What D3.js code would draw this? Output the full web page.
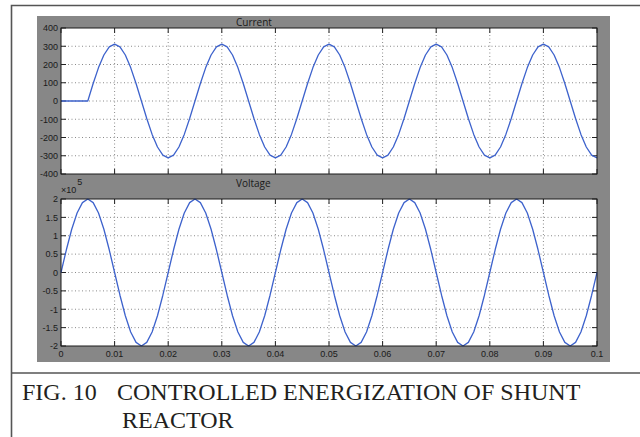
<!DOCTYPE html>
<html>
<head>
<meta charset="utf-8">
<script src="https://cdn.jsdelivr.net/npm/d3@7"></script>
<style>
  html, body { margin: 0; padding: 0; background: #ffffff; }
  svg { display: block; }
</style>
</head>
<body>
<svg id="fig" width="640" height="437"></svg>
<script>
// Sample times (s), 1 ms step
const time = d3.range(101).map(i => i / 1000);

// Reactor current (A), energized at 5 ms
const currentValues = [
  0, 0, 0, 0, 0, 0, 96, 183, 252, 297,
  312, 297, 252, 183, 96, 0, -96, -183, -252, -297,
  -312, -297, -252, -183, -96, 0, 96, 183, 252, 297,
  312, 297, 252, 183, 96, 0, -96, -183, -252, -297,
  -312, -297, -252, -183, -96, 0, 96, 183, 252, 297,
  312, 297, 252, 183, 96, 0, -96, -183, -252, -297,
  -312, -297, -252, -183, -96, 0, 96, 183, 252, 297,
  312, 297, 252, 183, 96, 0, -96, -183, -252, -297,
  -312, -297, -252, -183, -96, 0, 96, 183, 252, 297,
  312, 297, 252, 183, 96, 0, -96, -183, -252, -297,
  -312
];

// Bus voltage (x 10^5 V)
const voltageValues = [
  0, 0.618, 1.176, 1.618, 1.902, 2, 1.902, 1.618, 1.176, 0.618,
  0, -0.618, -1.176, -1.618, -1.902, -2, -1.902, -1.618, -1.176, -0.618,
  0, 0.618, 1.176, 1.618, 1.902, 2, 1.902, 1.618, 1.176, 0.618,
  0, -0.618, -1.176, -1.618, -1.902, -2, -1.902, -1.618, -1.176, -0.618,
  0, 0.618, 1.176, 1.618, 1.902, 2, 1.902, 1.618, 1.176, 0.618,
  0, -0.618, -1.176, -1.618, -1.902, -2, -1.902, -1.618, -1.176, -0.618,
  0, 0.618, 1.176, 1.618, 1.902, 2, 1.902, 1.618, 1.176, 0.618,
  0, -0.618, -1.176, -1.618, -1.902, -2, -1.902, -1.618, -1.176, -0.618,
  0, 0.618, 1.176, 1.618, 1.902, 2, 1.902, 1.618, 1.176, 0.618,
  0, -0.618, -1.176, -1.618, -1.902, -2, -1.902, -1.618, -1.176, -0.618,
  0
];

const xTicks = [0, 0.01, 0.02, 0.03, 0.04, 0.05, 0.06, 0.07, 0.08, 0.09, 0.1];
const xTickLabels = ["0", "0.01", "0.02", "0.03", "0.04", "0.05", "0.06", "0.07", "0.08", "0.09", "0.1"];
const currentTicks = [400, 300, 200, 100, 0, -100, -200, -300, -400];
const voltageTicks = [2, 1.5, 1, 0.5, 0, -0.5, -1, -1.5, -2];
const voltageTickLabels = ["2", "1.5", "1", "0.5", "0", "-0.5", "-1", "-1.5", "-2"];

const svg = d3.select("#fig");
const lineColor = "#3d62cc";
const panelGray = "#878787";

// Figure frame (open on the right) and caption separator
svg.append("path")
  .attr("d", "M640,5.5 H11.5 V437")
  .attr("fill", "none").attr("stroke", "#555").attr("stroke-width", 1.6);
svg.append("line")
  .attr("x1", 11.5).attr("x2", 640).attr("y1", 373).attr("y2", 373)
  .attr("stroke", "#555").attr("stroke-width", 1.6);

// Gray figure window background
svg.append("rect")
  .attr("x", 37).attr("y", 16).attr("width", 573).attr("height", 346)
  .attr("fill", panelGray);

const x = d3.scaleLinear().domain([0, 0.1]).range([61, 597]);

function drawPanel(opts) {
  const { y, ticks, tickLabels, values, title, titleY, showX } = opts;
  const [y0, y1] = y.range();
  const top = Math.min(y0, y1), bottom = Math.max(y0, y1);
  const left = x.range()[0], right = x.range()[1];
  const g = svg.append("g");

  g.append("rect")
    .attr("x", left).attr("y", top)
    .attr("width", right - left).attr("height", bottom - top)
    .attr("fill", "#ffffff");

  // dotted grid
  g.append("g").selectAll("line").data(xTicks.slice(1, -1)).join("line")
    .attr("x1", d => x(d)).attr("x2", d => x(d))
    .attr("y1", top).attr("y2", bottom)
    .attr("stroke", "#8a8a8a").attr("stroke-width", 1)
    .attr("stroke-dasharray", "1,2.5");
  g.append("g").selectAll("line").data(ticks.slice(1, -1)).join("line")
    .attr("x1", left).attr("x2", right)
    .attr("y1", d => y(d)).attr("y2", d => y(d))
    .attr("stroke", "#8a8a8a").attr("stroke-width", 1)
    .attr("stroke-dasharray", "1,2.5");

  // inward tick marks on all four sides
  const tk = 5;
  const tg = g.append("g").attr("stroke", "#222").attr("stroke-width", 1);
  xTicks.forEach(d => {
    tg.append("line").attr("x1", x(d)).attr("x2", x(d)).attr("y1", top).attr("y2", top + tk);
    tg.append("line").attr("x1", x(d)).attr("x2", x(d)).attr("y1", bottom).attr("y2", bottom - tk);
  });
  ticks.forEach(d => {
    tg.append("line").attr("x1", left).attr("x2", left + tk).attr("y1", y(d)).attr("y2", y(d));
    tg.append("line").attr("x1", right).attr("x2", right - tk).attr("y1", y(d)).attr("y2", y(d));
  });

  // signal trace
  const line = d3.line().x((d, i) => x(time[i])).y(d => y(d));
  g.append("path").datum(values)
    .attr("d", line)
    .attr("fill", "none").attr("stroke", lineColor)
    .attr("stroke-width", 1.3).attr("stroke-linejoin", "round");

  // axes box
  g.append("rect")
    .attr("x", left).attr("y", top)
    .attr("width", right - left).attr("height", bottom - top)
    .attr("fill", "none").attr("stroke", "#1a1a1a").attr("stroke-width", 1);

  // y tick labels
  g.append("g").selectAll("text").data(ticks).join("text")
    .attr("x", left - 3).attr("y", d => y(d) + 3.3)
    .attr("text-anchor", "end")
    .attr("font-family", "Liberation Sans, Arial, sans-serif")
    .attr("font-size", 9).attr("fill", "#1a1a1a")
    .text((d, i) => tickLabels[i]);

  if (showX) {
    g.append("g").selectAll("text").data(xTicks).join("text")
      .attr("x", d => x(d)).attr("y", bottom + 11)
      .attr("text-anchor", "middle")
      .attr("font-family", "Liberation Sans, Arial, sans-serif")
      .attr("font-size", 9).attr("fill", "#1a1a1a")
      .text((d, i) => xTickLabels[i]);
  }

  svg.append("text")
    .attr("x", 236).attr("y", titleY)
    .attr("font-family", "Open Sans, DejaVu Sans, sans-serif")
    .attr("font-size", 10).attr("fill", "#1a1a1a")
    .text(title);
}

const yCurrent = d3.scaleLinear().domain([-400, 400]).range([174, 28]);
const yVoltage = d3.scaleLinear().domain([-2, 2]).range([346, 199]);

drawPanel({
  y: yCurrent, ticks: currentTicks, tickLabels: currentTicks.map(String),
  values: currentValues, title: "Current", titleY: 25.5, showX: false
});
drawPanel({
  y: yVoltage, ticks: voltageTicks, tickLabels: voltageTickLabels,
  values: voltageValues, title: "Voltage", titleY: 187, showX: true
});

// exponent marker of the voltage axis
const expo = svg.append("text")
  .attr("x", 61).attr("y", 193)
  .attr("font-family", "Liberation Sans, Arial, sans-serif")
  .attr("font-size", 9).attr("fill", "#1a1a1a");
expo.append("tspan").text("\u00d710");
expo.append("tspan").attr("dx", 1).attr("dy", -8).text("5");

// Caption
const cap = svg.append("g")
  .attr("font-family", "Liberation Serif, Times New Roman, serif")
  .attr("font-size", 24).attr("fill", "#231f20");
cap.append("text").attr("x", 22).attr("y", 400).text("FIG. 10");
cap.append("text").attr("x", 117).attr("y", 400).text("CONTROLLED ENERGIZATION OF SHUNT");
cap.append("text").attr("x", 122).attr("y", 428).text("REACTOR");
</script>
</body>
</html>
